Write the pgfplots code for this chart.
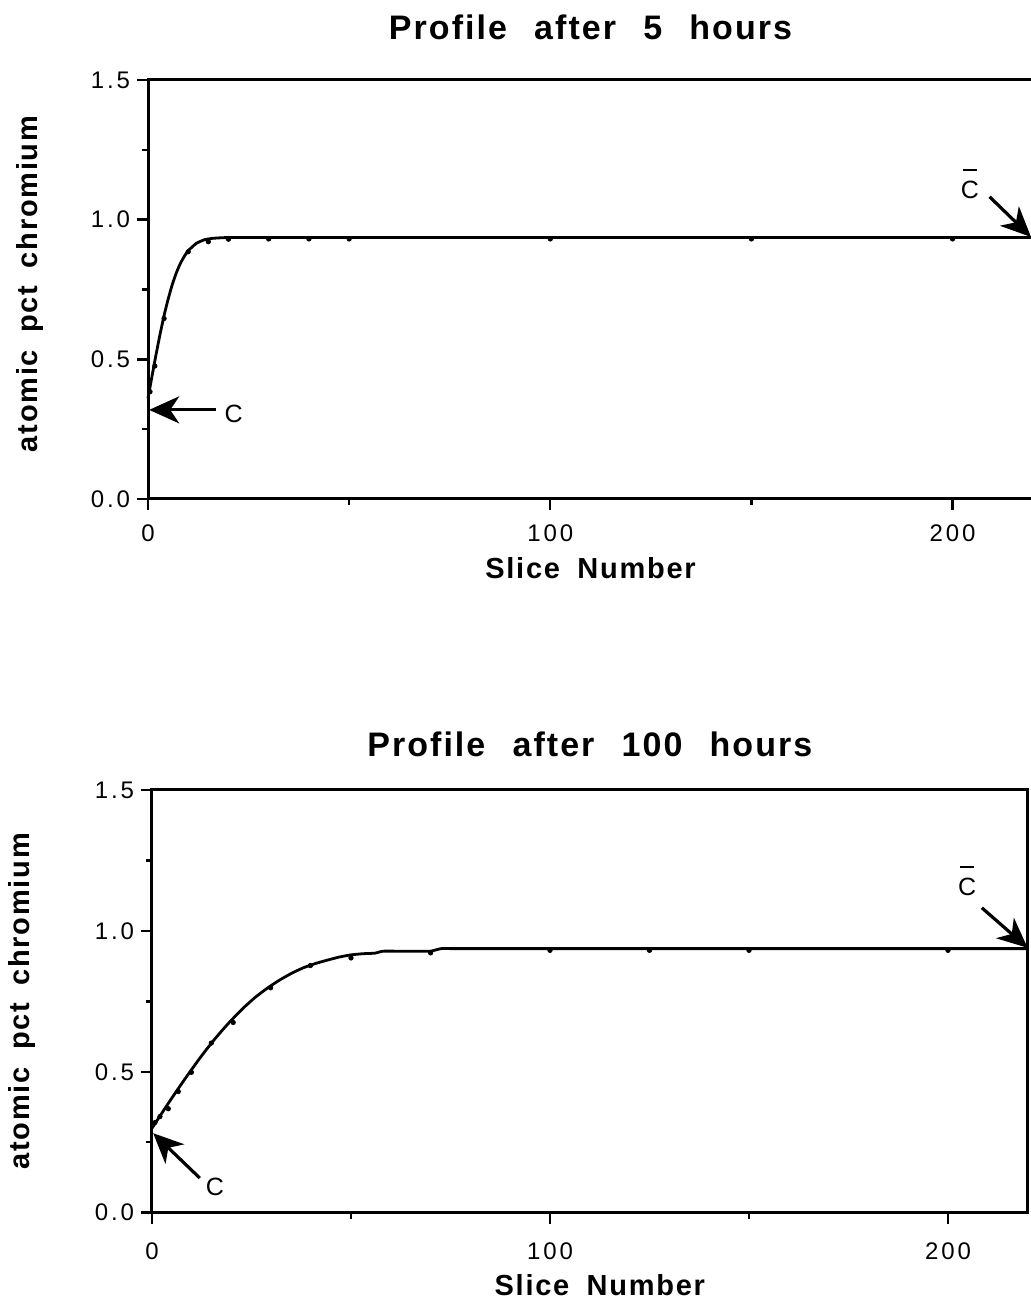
\documentclass[border=0pt]{standalone}
\usepackage{pgfplots}
\pgfplotsset{compat=1.18}
\usepackage{fontspec}
\setmainfont{Liberation Sans}
\newfontfamily\tickfont[LetterSpace=12]{Liberation Sans}
\newfontfamily\labfont[LetterSpace=6]{Liberation Sans}
\usetikzlibrary{arrows.meta}

% concentration profiles: smooth curve and computed slice values
\pgfplotstableread{
x y
0 0.360
1 0.440
2 0.517
3 0.590
4 0.657
5 0.715
6 0.766
7 0.808
8 0.842
9 0.868
10 0.889
12 0.915
14 0.928
16 0.933
18 0.935
20 0.936
25 0.936
30 0.936
40 0.936
50 0.936
60 0.936
80 0.936
100 0.936
120 0.936
140 0.936
160 0.936
180 0.936
200 0.936
220 0.936
}\fivecurve
\pgfplotstableread{
x y
0.5 0.384
1.7 0.476
4 0.646
10 0.885
15 0.921
20 0.930
30 0.931
40 0.931
50 0.931
100 0.931
150 0.931
200 0.931
}\fivedots
\pgfplotstableread{
x y
0 0.300
2 0.343
4 0.386
6 0.428
8 0.469
10 0.509
12 0.548
14 0.585
16 0.620
18 0.653
20 0.684
23 0.727
26 0.765
29 0.797
32 0.825
35 0.849
38 0.869
41 0.884
44 0.896
47 0.907
50 0.915
53 0.919
56 0.921
58 0.928
62 0.928
66 0.928
70 0.928
72.6 0.937
76 0.937
80 0.937
90 0.937
100 0.937
120 0.937
140 0.937
160 0.937
180 0.937
200 0.937
220 0.937
}\hundredcurve
\pgfplotstableread{
x y
0.75 0.32
2 0.341
4.1 0.369
6.6 0.43
9.9 0.498
14.9 0.602
20.4 0.675
29.8 0.798
39.8 0.877
50 0.904
70 0.922
100 0.931
125 0.931
150 0.931
200 0.931
}\hundreddots

\pgfplotsset{
  chrom/.style={
    scale only axis, clip=false,
    xmin=0, xmax=220, ymin=0, ymax=1.5,
    axis line style={line width=1.5pt, black},
    xtick={0,100,200}, xticklabels={0,100,200},
    minor xtick={50,150},
    ytick={0,0.5,1,1.5}, yticklabels={0.0,0.5,1.0,1.5},
    minor ytick={0.25,0.75,1.25},
    xtick pos=left, ytick pos=left,
    tick align=outside,
    major tick length=5.5pt, minor tick length=3pt,
    tick style={line width=1.2pt, black},
    ticklabel style={font=\tickfont\fontsize{12}{14}\selectfont},
    xlabel={Slice\hspace{0.6em}Number},
    ylabel={atomic\hspace{0.6em}pct\hspace{0.6em}chromium},
    label style={font=\labfont\bfseries\fontsize{14.5}{17}\selectfont},
    title style={font=\labfont\bfseries\fontsize{17}{20}\selectfont},
  },
  curve/.style={black, line width=1.4pt, smooth, tension=0.3},
  dots/.style={black, only marks, mark=*, mark size=1.1pt},
}
\tikzset{
  pointer/.style={line width=1.6pt, black, -{Stealth[length=15pt,width=13.5pt,inset=4.5pt]}},
  marklabel/.style={font=\tickfont\fontsize{12.5}{14}\selectfont},
}
% mean concentration symbol: C with a bar set well above it
\newcommand{\cbar}{\makebox[0pt][l]{\hspace{1pt}\raisebox{13.8pt}{\rule{7pt}{1.1pt}}}C}

\begin{document}
\begin{tikzpicture}
\path[use as bounding box] (0,0) rectangle (515.5pt,650.5pt);

\begin{axis}[chrom,
  at={(74pt,401pt)}, anchor=south west,
  width=442.5pt, height=209.5pt,
  title={Profile\hspace{0.8em}after\hspace{0.8em}5\hspace{0.8em}hours},
  title style={at={(axis description cs:0.5,1)}, anchor=center, yshift=20.5pt},
  xlabel style={at={(axis description cs:0.5,0)}, anchor=center, yshift=-34.5pt},
  ylabel style={at={(axis description cs:-0.1333,0.513)}, anchor=center},
  xticklabel style={yshift=-4pt},
]
\addplot[curve] table {\fivecurve};
\addplot[dots] table {\fivedots};
\draw[pointer] (axis cs:17,0.319) -- (axis cs:0.3,0.319);
\node[marklabel] at (axis cs:21.3,0.305) {C};
\draw[pointer] (axis cs:209.2,1.082) -- (axis cs:219.5,0.938);
\node[marklabel, anchor=base] at (axis cs:204.3,1.075) {\cbar};
\end{axis}

\begin{axis}[chrom,
  at={(76pt,44.15pt)}, anchor=south west,
  width=437.8pt, height=211.35pt,
  title={Profile\hspace{0.8em}after\hspace{0.8em}100\hspace{0.8em}hours},
  title style={at={(axis description cs:0.5,1)}, anchor=center, yshift=17pt},
  xlabel style={at={(axis description cs:0.5,0)}, anchor=center, yshift=-36pt, xshift=5pt},
  ylabel style={at={(axis description cs:-0.1486,0.5)}, anchor=center},
  xticklabel style={yshift=-6pt},
]
\addplot[curve] table {\hundredcurve};
\addplot[dots] table {\hundreddots};
\draw[pointer] (axis cs:12,0.123) -- (axis cs:0.3,0.282);
\node[marklabel] at (axis cs:15.8,0.092) {C};
\draw[pointer] (axis cs:208.5,1.082) -- (axis cs:220,0.94);
\node[marklabel, anchor=base] at (axis cs:204.8,1.125) {\cbar};
\end{axis}
\end{tikzpicture}
\end{document}
